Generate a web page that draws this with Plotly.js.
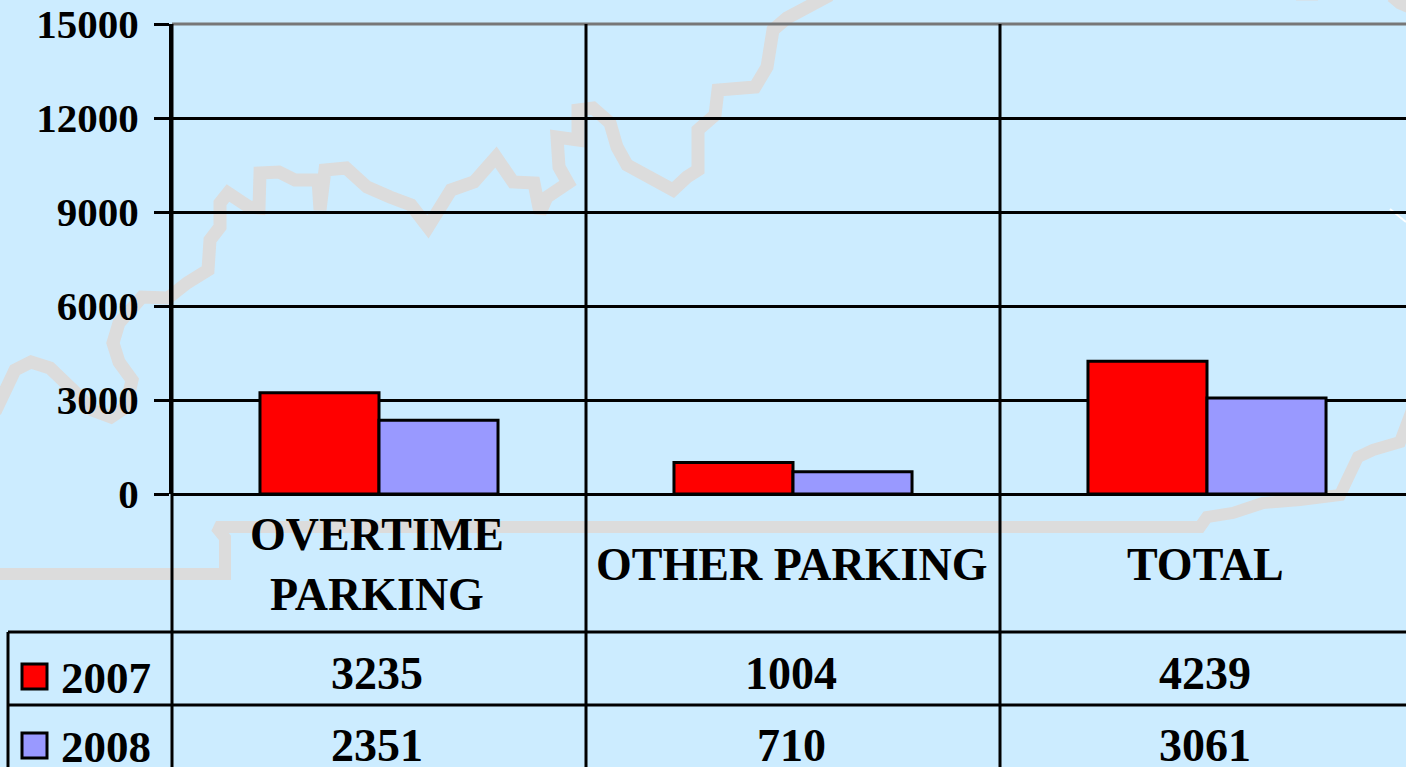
<!DOCTYPE html>
<html><head><meta charset="utf-8">
<script src="https://cdn.plot.ly/plotly-3.0.1.min.js"></script>
<style>html,body{margin:0;padding:0;background:#ccecff;overflow:hidden}#c{width:1406px;height:767px}</style>
</head><body><div id="c"></div>
<script>
const categories = ['OVERTIME<br>PARKING', 'OTHER PARKING', 'TOTAL'];
const seriesNames = ['2007', '2008'];
const values2007 = [3235, 1004, 4239];
const values2008 = [2351, 710, 3061];
const yTicks = [0, 3000, 6000, 9000, 12000, 15000];

// Faint background outline in page pixels
const outlineTopX = [-5,0,15,31,50,73,92,111,126,132,119,113,119,142,168,187,208,210,220,220,228,249,259,260,279,295,318,320,325,346,367,390,411,428,451,474,496,513,534,540,547,568,559,557,578,578,593,610,617,627,650,673,687,698,698,715,718,733,755,767,773,787,813,830];
const outlineTopY = [412,402,370,362,368,390,410,417,407,380,362,343,323,297,298,283,270,240,227,203,193,207,208,173,172,180,180,210,170,168,187,197,205,227,190,182,157,182,183,213,197,183,167,137,140,110,108,123,147,165,177,190,177,170,130,115,90,88,87,67,30,18,3,-5];
const outlineBottomX = [-5,225,225,219,216,1200,1207,1233,1263,1300,1340,1347,1358,1373,1400,1412];
const outlineBottomY = [574,574,538,527,527,527,517,513,503,500,495,480,457,450,442,410];
const outlineCornerX = [1392,1400,1412];
const outlineCornerY = [-4,3,8];
const outlineTopEdgeX = [1296,1318];
const outlineTopEdgeY = [-6,-6];
const glintX = [1390,1406];
const glintY = [209,222];

const INK = '#000000', BG = '#ccecff', DECOR = '#dcdcdc', RED = '#ff0000', BLUE = '#9999ff';
const serif = 'Liberation Serif, Times New Roman, serif';
const line = (x0, y0, x1, y1, color) => ({type:'line', xref:'x', yref:'y', x0, y0, x1, y1, layer:'above', line:{color:color||INK, width:3}});
const label = (text, x, y, xref, size, xanchor) => ({text, x, y, xref, yref:'y', showarrow:false, xanchor:xanchor||'center', yanchor:'middle',
  font:{family:serif, size, color:INK, weight:700}});
const decor = (x, y, w, c) => ({x, y, type:'scatter', mode:'lines', xaxis:'x', yaxis:'y', hoverinfo:'skip', showlegend:false, line:{color:c||DECOR, width:w}});

const traces = [
  decor(outlineTopX, outlineTopY, 13),
  decor(outlineBottomX, outlineBottomY, 12),
  decor(outlineCornerX, outlineCornerY, 13),
  decor(outlineTopEdgeX, outlineTopEdgeY, 13),
  decor(glintX, glintY, 2, '#ffffff'),
  {x:[0,1,2], y:values2007, name:seriesNames[0], type:'bar', xaxis:'x2', yaxis:'y2', marker:{color:RED, line:{color:INK, width:3}}},
  {x:[0,1,2], y:values2008, name:seriesNames[1], type:'bar', xaxis:'x2', yaxis:'y2', marker:{color:BLUE, line:{color:INK, width:3}}},
  {x:[34.5], y:[676.5], type:'scatter', mode:'markers', xaxis:'x', yaxis:'y', showlegend:false, hoverinfo:'skip', marker:{symbol:'square', size:25, color:RED, line:{color:INK, width:3}}},
  {x:[34.5], y:[745.5], type:'scatter', mode:'markers', xaxis:'x', yaxis:'y', showlegend:false, hoverinfo:'skip', marker:{symbol:'square', size:25, color:BLUE, line:{color:INK, width:3}}}
];

const annotations = [];
const labelCentres = [0, 1, 2];
categories.forEach((c, i) => {
  annotations.push(label(c, labelCentres[i] - 0.004, 564, 'x2', 46));
  annotations.push(label(String(values2007[i]), labelCentres[i] - 0.004, 673, 'x2', 46));
  annotations.push(label(String(values2008[i]), labelCentres[i] - 0.004, 745, 'x2', 46));
});
annotations.push(label(seriesNames[0], 59, 678, 'x', 45, 'left'));
annotations.push(label(seriesNames[1], 59, 747, 'x', 45, 'left'));

const shapes = [
  line(172, 24, 1406, 24, '#777777'),
  line(172, 24, 172, 767), line(586, 24, 586, 767), line(1000, 24, 1000, 767),
  line(8, 632, 1406, 632), line(8, 705, 1406, 705), line(8, 632, 8, 767)
];

Plotly.newPlot('c', traces, {
  width:1406, height:767, margin:{l:0, r:0, t:0, b:0},
  paper_bgcolor:BG, plot_bgcolor:'rgba(0,0,0,0)', showlegend:false,
  barmode:'group', bargap:0.425, bargroupgap:0,
  xaxis:{domain:[0,1], range:[0,1406], visible:false, fixedrange:true},
  yaxis:{domain:[0,1], range:[767,0], visible:false, fixedrange:true},
  xaxis2:{domain:[172/1406,1], range:[-0.5,(1406-172)/414-0.5], anchor:'y2', showticklabels:false, ticks:'', showgrid:false, zeroline:false, showline:false, fixedrange:true},
  yaxis2:{domain:[(767-494)/767,(767-24)/767], range:[0,15000], anchor:'x2', tickvals:yTicks, ticktext:yTicks.map(String), ticks:'outside', ticklen:15, tickwidth:3, tickcolor:INK, ticklabelstandoff:7,
    showline:true, linecolor:INK, linewidth:3, showgrid:true, gridcolor:INK, gridwidth:3, zeroline:true, zerolinecolor:INK, zerolinewidth:3, fixedrange:true,
    tickfont:{family:serif, size:41, color:INK, weight:700}},
  shapes, annotations
}, {displayModeBar:false, staticPlot:true});
</script></body></html>
